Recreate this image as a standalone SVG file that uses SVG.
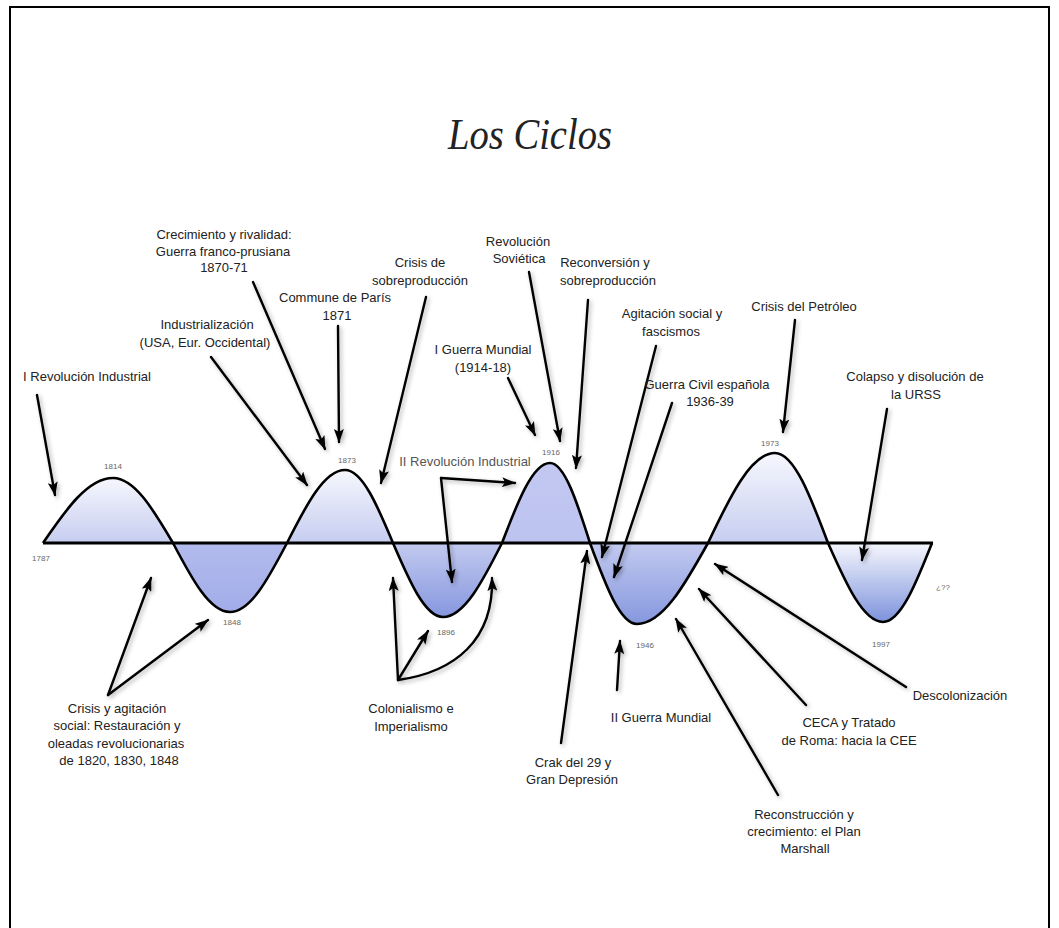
<svg xmlns="http://www.w3.org/2000/svg" width="1059" height="928" viewBox="0 0 1059 928">
  <style>
    .lbl { font-family: "Liberation Sans", Arial, sans-serif; font-size: 13px; fill: #222; text-anchor: middle; }
    .yr { font-family: "Liberation Sans", Arial, sans-serif; font-size: 8px; fill: #666; text-anchor: middle; }
    .title { font-family: "Liberation Serif", "DejaVu Serif", serif; font-style: italic; font-size: 44px; fill: #222; text-anchor: middle; }
    .arr { fill: none; stroke: #000; stroke-width: 2.4; stroke-linecap: round; marker-end: url(#head); }
    .wave { fill: none; stroke: #000; stroke-width: 2.6; stroke-linejoin: round; }
  </style>
  <defs>
    <marker id="head" viewBox="0 0 14 10" refX="13" refY="5" markerWidth="14" markerHeight="10" markerUnits="userSpaceOnUse" orient="auto">
      <path d="M0,0 L14,5 L0,10 L3,5 Z" fill="#000"/>
    </marker>
    <filter id="shadow" x="-20%" y="-20%" width="140%" height="140%">
      <feDropShadow dx="2" dy="2" stdDeviation="2" flood-color="#000" flood-opacity="0.3"/>
    </filter>
    <linearGradient id="gUpA" x1="0" y1="0" x2="0" y2="1">
      <stop offset="0" stop-color="#f6f7fd"/>
      <stop offset="1" stop-color="#c6cdf0"/>
    </linearGradient>
    <linearGradient id="gUpB" x1="0" y1="0" x2="0" y2="1">
      <stop offset="0" stop-color="#c2c8f1"/>
      <stop offset="1" stop-color="#bcc3ef"/>
    </linearGradient>
    <linearGradient id="gDnA" x1="0" y1="0" x2="0" y2="1">
      <stop offset="0" stop-color="#b3bbed"/>
      <stop offset="1" stop-color="#a2ace8"/>
    </linearGradient>
    <linearGradient id="gDnB" x1="0" y1="0" x2="0" y2="1">
      <stop offset="0" stop-color="#c3caf0"/>
      <stop offset="1" stop-color="#8597de"/>
    </linearGradient>
    <linearGradient id="gDnC" x1="0" y1="0" x2="0" y2="1">
      <stop offset="0" stop-color="#f6f7fd"/>
      <stop offset="1" stop-color="#7d92dc"/>
    </linearGradient>
  </defs>

  <rect width="1059" height="928" fill="#fff"/>
  <!-- page frame -->
  <path d="M10,928 V7 H1049 V928" fill="none" stroke="#000" stroke-width="2"/>

  <text class="title" x="530" y="149" textLength="164" lengthAdjust="spacingAndGlyphs">Los Ciclos</text>

  <!-- cycle humps -->
  <g id="wave">
    <path d="M43,543 C65.8,509.7 87.8,478 113,478 C134.6,478 153.4,509.7 173,543 Z" fill="url(#gUpA)"/>
    <path d="M173,543 C191.6,578.4 209.5,612 230,612 C250.5,612 268.4,578.4 287,543 Z" fill="url(#gDnA)"/>
    <path d="M287,543 C305.9,505.6 324.1,470 345,470 C362.3,470 377.4,505.6 393,543 Z" fill="url(#gUpA)"/>
    <path d="M393,543 C409.3,580.9 425,617 443,617 C464.2,617 482.8,580.9 502,543 Z" fill="url(#gDnB)"/>
    <path d="M502,543 C517.6,502 532.7,463 550,463 C564.4,463 577,502 590,543 Z" fill="url(#gUpB)"/>
    <path d="M590,543 C605.3,584.5 620.1,624 637,624 C662.6,624 684.9,584.5 708,543 Z" fill="url(#gDnB)"/>
    <path d="M708,543 C729.8,496.9 750.9,453 775,453 C794.1,453 810.7,496.9 828,543 Z" fill="url(#gUpA)"/>
    <path d="M828,543 C845.9,583.5 863.2,622 883,622 C900.6,622 916,583.5 932,543 Z" fill="url(#gDnC)"/>
    <path class="wave" d="M43,543 C65.8,509.7 87.8,478 113,478 C134.6,478 153.4,509.7 173,543 C191.6,578.4 209.5,612 230,612 C250.5,612 268.4,578.4 287,543 C305.9,505.6 324.1,470 345,470 C362.3,470 377.4,505.6 393,543 C409.3,580.9 425,617 443,617 C464.2,617 482.8,580.9 502,543 C517.6,502 532.7,463 550,463 C564.4,463 577,502 590,543 C605.3,584.5 620.1,624 637,624 C662.6,624 684.9,584.5 708,543 C729.8,496.9 750.9,453 775,453 C794.1,453 810.7,496.9 828,543 C845.9,583.5 863.2,622 883,622 C900.6,622 916,583.5 932,543"/>
    <line x1="43" y1="543" x2="933" y2="543" stroke="#000" stroke-width="3"/>
  </g>

  <!-- year marks -->
  <g id="years">
    <text class="yr" x="41" y="561">1787</text>
    <text class="yr" x="113" y="469">1814</text>
    <text class="yr" x="232" y="625">1848</text>
    <text class="yr" x="347" y="463">1873</text>
    <text class="yr" x="446" y="635">1896</text>
    <text class="yr" x="551" y="455">1916</text>
    <text class="yr" x="645" y="648">1946</text>
    <text class="yr" x="770" y="446">1973</text>
    <text class="yr" x="881" y="647">1997</text>
    <text class="yr" x="943" y="590">¿??</text>
  </g>

  <!-- connectors -->
  <g id="connectors" filter="url(#shadow)">
    <path class="arr" d="M37,395 L55,495"/>
    <path class="arr" d="M211,357 L307,485"/>
    <path class="arr" d="M253,282 L325,449"/>
    <path class="arr" d="M338,326 L339,442"/>
    <path class="arr" d="M426,297 L381,483"/>
    <path class="arr" d="M529,272 L560,441"/>
    <path class="arr" d="M588,300 L576,468"/>
    <path class="arr" d="M508,378 L535,435"/>
    <path class="arr" d="M656,346 L602,557"/>
    <path class="arr" d="M672,403 L614,577"/>
    <path class="arr" d="M795,320 L783,432"/>
    <path class="arr" d="M887,409 L862,560"/>
    <path class="arr" d="M441,478 L515,483"/>
    <path class="arr" d="M441,478 L452,582"/>
    <path class="arr" d="M108,695 L151,578"/>
    <path class="arr" d="M108,695 L208,620"/>
    <path class="arr" d="M398,680 L393,578"/>
    <path class="arr" d="M398,680 L428,631"/>
    <path class="arr" d="M398,680 C455,672 494,640 492,578"/>
    <path class="arr" d="M561,743 L587,551"/>
    <path class="arr" d="M617,690 L620,641"/>
    <path class="arr" d="M778,795 L676,619"/>
    <path class="arr" d="M806,705 L699,589"/>
    <path class="arr" d="M906,687 L715,564"/>
  </g>

  <!-- labels -->
  <g id="n-rev1"><text class="lbl" x="87" y="381">I Revolución Industrial</text></g>
  <g id="n-industrializacion">
    <text class="lbl" x="207" y="329">Industrialización</text>
    <text class="lbl" x="205" y="347">(USA, Eur. Occidental)</text>
  </g>
  <g id="n-crecimiento">
    <text class="lbl" x="224" y="239">Crecimiento y rivalidad:</text>
    <text class="lbl" x="223" y="256">Guerra franco-prusiana</text>
    <text class="lbl" x="224" y="272">1870-71</text>
  </g>
  <g id="n-commune">
    <text class="lbl" x="335" y="302">Commune de París</text>
    <text class="lbl" x="337" y="320">1871</text>
  </g>
  <g id="n-crisis-sobre">
    <text class="lbl" x="420" y="267">Crisis de</text>
    <text class="lbl" x="420" y="285">sobreproducción</text>
  </g>
  <g id="n-sovietica">
    <text class="lbl" x="518" y="246">Revolución</text>
    <text class="lbl" x="519" y="263">Soviética</text>
  </g>
  <g id="n-reconversion">
    <text class="lbl" x="605" y="267">Reconversión y</text>
    <text class="lbl" x="608" y="285">sobreproducción</text>
  </g>
  <g id="n-gm1">
    <text class="lbl" x="483" y="354">I Guerra Mundial</text>
    <text class="lbl" x="483" y="372">(1914-18)</text>
  </g>
  <g id="n-agitacion">
    <text class="lbl" x="672" y="318">Agitación social y</text>
    <text class="lbl" x="671" y="336">fascismos</text>
  </g>
  <g id="n-civil">
    <text class="lbl" x="707" y="389">Guerra Civil española</text>
    <text class="lbl" x="710" y="406">1936-39</text>
  </g>
  <g id="n-petroleo"><text class="lbl" x="804" y="311">Crisis del Petróleo</text></g>
  <g id="n-urss">
    <text class="lbl" x="915" y="381">Colapso y disolución de</text>
    <text class="lbl" x="916" y="399">la URSS</text>
  </g>
  <g id="n-rev2"><text class="lbl" x="465" y="466" style="fill:#555">II Revolución Industrial</text></g>
  <g id="n-restauracion">
    <text class="lbl" x="117" y="713">Crisis y agitación</text>
    <text class="lbl" x="117" y="730">social: Restauración y</text>
    <text class="lbl" x="116" y="748">oleadas revolucionarias</text>
    <text class="lbl" x="119" y="765">de 1820, 1830, 1848</text>
  </g>
  <g id="n-colonialismo">
    <text class="lbl" x="411" y="713">Colonialismo e</text>
    <text class="lbl" x="411" y="731">Imperialismo</text>
  </g>
  <g id="n-crak">
    <text class="lbl" x="573" y="767">Crak del 29 y</text>
    <text class="lbl" x="572" y="784">Gran Depresión</text>
  </g>
  <g id="n-gm2"><text class="lbl" x="661" y="722">II Guerra Mundial</text></g>
  <g id="n-ceca">
    <text class="lbl" x="849" y="727">CECA y Tratado</text>
    <text class="lbl" x="849" y="745">de Roma: hacia la CEE</text>
  </g>
  <g id="n-descolonizacion"><text class="lbl" x="960" y="700">Descolonización</text></g>
  <g id="n-marshall">
    <text class="lbl" x="804" y="819">Reconstrucción y</text>
    <text class="lbl" x="804" y="836">crecimiento: el Plan</text>
    <text class="lbl" x="805" y="853">Marshall</text>
  </g>
</svg>
